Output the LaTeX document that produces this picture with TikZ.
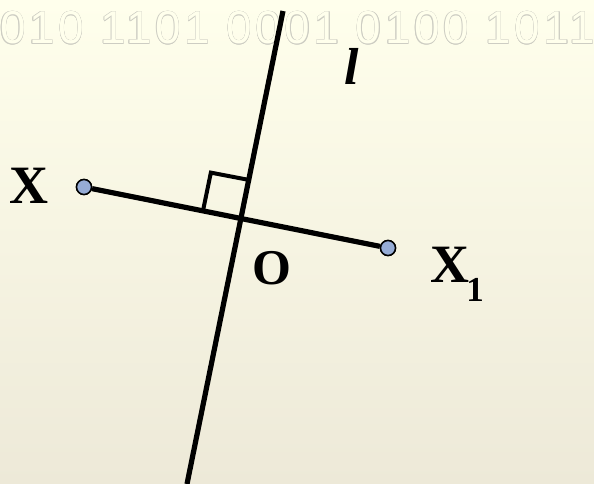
\documentclass[tikz,border=0pt]{standalone}
\usepackage{fontspec}
\setmainfont{Liberation Serif}
\newfontfamily\digitfont[LetterSpace=7.8]{Liberation Sans}
\usetikzlibrary{calc}
\definecolor{bgtop}{RGB}{255,255,236}
\definecolor{bgbot}{RGB}{237,233,216}
\definecolor{ptfill}{RGB}{150,172,214}
\definecolor{outl}{RGB}{205,205,195}
\begin{document}
\begin{tikzpicture}[x=1pt,y=-1pt,
  mainline/.style={line width=5.2pt,black},
  pt/.style={circle,draw=black,line width=1.5pt,fill=ptfill,minimum size=15pt,inner sep=0pt},
  bitstext/.style={anchor=base west,inner sep=0pt,font=\digitfont\fontsize{46}{46}\selectfont},
  lbl/.style={font=\fontsize{54}{54}\selectfont\bfseries,inner sep=0pt}]
\shade[top color=bgtop,bottom color=bgbot] (0,0) rectangle (594,484);
\useasboundingbox (0,0) rectangle (594,484);
\foreach \ang in {0,45,...,315}{
  \node[bitstext,text=outl] at ($(0,44)+(\ang:0.45)$) {010 1101 0001 0100 1011};
}
\node[bitstext,text=bgtop] (bits) at (0,44) {010 1101 0001 0100 1011};
\coordinate (ltop) at (283,11);
\coordinate (lbot) at (187,484);
\node[pt] (X) at (84,187) {};
\node[pt] (X1) at (388,248) {};
\coordinate (O) at (240.5,217);
\draw[mainline] (ltop) -- (lbot);
\draw[mainline] (X) -- (X1);
% right angle mark
\coordinate (a) at ($(O)!38pt!(X)$);
\coordinate (b) at ($(O)!38pt!(ltop)$);
\draw[line width=4pt,line join=miter] (a) -- ($(a)+(b)-(O)$) -- (b);
\node[pt] at (84,187) {};
\node[pt] at (388,248) {};
\node[lbl] (lX) at (29,186) {X};
\node[lbl] (lX1) at (450,265) {X};
\node[inner sep=0pt,font=\fontsize{35}{35}\selectfont\bfseries] (sub) at (475,290) {1};
\node[inner sep=0pt,font=\fontsize{50}{50}\selectfont\bfseries] (lO) at (272,268) {O};
\node[inner sep=0pt,font=\fontsize{52}{52}\selectfont\bfseries\itshape] (ll) at (352,66) {l};
\end{tikzpicture}
\end{document}
